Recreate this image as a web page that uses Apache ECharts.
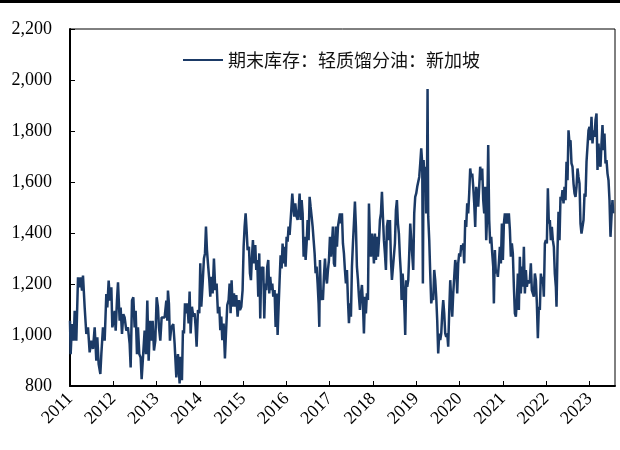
<!DOCTYPE html>
<html>
<head>
<meta charset="utf-8">
<script src="https://cdn.jsdelivr.net/npm/echarts@6/dist/echarts.min.js"></script>
<style>
html,body{margin:0;padding:0;background:#fff;}
#chart{width:620px;height:450px;}
</style>
</head>
<body>
<div id="chart"></div>
<script>
// Series name
const seriesName = '期末库存：轻质馏分油：新加坡';
// Year tick labels
const yearLabels = [2011,2012,2013,2014,2015,2016,2017,2018,2019,2020,2021,2022,2023];
// Y axis ticks
const yTicks = [800,1000,1200,1400,1600,1800,2000,2200];
// Observation dates (decimal year)
const obsTime = [
2011.000,2011.015,2011.046,2011.085,2011.108,2011.146,2011.185,2011.223,2011.246,2011.277,
2011.300,2011.339,2011.377,2011.416,2011.454,2011.493,2011.531,2011.570,2011.608,2011.631,
2011.662,2011.701,2011.724,2011.762,2011.801,2011.839,2011.862,2011.893,2011.924,2011.955,
2011.978,2012.008,2012.032,2012.055,2012.085,2012.109,2012.147,2012.170,2012.201,2012.232,
2012.262,2012.301,2012.339,2012.378,2012.401,2012.432,2012.463,2012.493,2012.517,2012.547,
2012.570,2012.601,2012.632,2012.655,2012.686,2012.724,2012.755,2012.786,2012.817,2012.848,
2012.878,2012.909,2012.940,2012.971,2013.002,2013.032,2013.055,2013.086,2013.117,2013.148,
2013.186,2013.225,2013.248,2013.263,2013.286,2013.309,2013.340,2013.386,2013.417,2013.456,
2013.494,
2013.532,2013.556,2013.586,2013.609,2013.633,2013.656,2013.686,2013.710,2013.740,2013.763,
2013.787,2013.817,2013.848,2013.879,2013.902,2013.925,2013.956,2013.987,2014.010,2014.033,
2014.064,2014.094,2014.118,2014.141,2014.164,2014.187,2014.218,2014.241,2014.264,2014.295,
2014.325,2014.356,2014.387,2014.418,2014.449,2014.472,2014.495,2014.518,2014.549,2014.579,
2014.603,2014.633,2014.664,2014.687,2014.710,2014.733,2014.757,2014.787,2014.818,2014.841,
2014.872,2014.903,2014.926,2014.957,2014.987,2015.011,2015.034,2015.057,2015.080,2015.103,
2015.134,2015.157,2015.180,2015.203,2015.226,2015.249,2015.280,2015.303,2015.326,2015.349,
2015.372,2015.395,2015.418,2015.442,2015.465,2015.488,2015.511,2015.534,2015.557,2015.580,
2015.603,2015.626,2015.650,2015.673,2015.696,2015.726,2015.750,2015.773,2015.796,2015.819,
2015.842,2015.865,2015.888,2015.911,2015.934,2015.957,2015.980,2016.004,2016.027,2016.050,
2016.073,
2016.112,2016.135,2016.158,2016.181,2016.204,2016.235,2016.258,2016.281,2016.304,2016.328,
2016.351,2016.374,2016.397,2016.420,2016.443,2016.466,2016.489,2016.512,2016.535,2016.558,
2016.582,2016.605,2016.628,2016.651,2016.674,2016.697,2016.720,2016.743,2016.759,2016.774,
2016.797,2016.820,2016.843,2016.866,2016.890,2016.913,2016.936,2016.959,2016.982,2017.005,
2017.028,2017.051,2017.074,2017.097,2017.120,2017.144,2017.167,2017.190,2017.213,2017.236,
2017.259,2017.282,2017.305,2017.328,2017.351,2017.374,2017.398,2017.421,2017.444,2017.467,
2017.490,2017.513,2017.536,2017.559,2017.582,2017.605,2017.628,2017.652,2017.675,2017.698,
2017.721,2017.744,2017.767,2017.790,2017.813,2017.836,2017.859,2017.883,2017.906,2017.929,
2017.952,2017.975,2017.998,2018.021,2018.044,2018.067,2018.090,2018.113,2018.137,2018.160,
2018.183,2018.206,2018.229,2018.252,2018.275,2018.298,2018.321,2018.344,2018.367,2018.391,
2018.414,2018.437,2018.460,2018.483,2018.506,2018.529,2018.552,2018.575,2018.598,
2018.621,2018.644,2018.660,2018.683,2018.706,2018.729,2018.744,2018.767,2018.791,2018.814,
2018.837,2018.860,2018.883,2018.906,2018.929,2018.952,2018.975,2018.998,2019.021,2019.045,
2019.068,2019.091,2019.114,2019.137,2019.152,2019.168,2019.191,2019.214,2019.229,2019.245,
2019.260,2019.275,2019.299,2019.322,2019.345,2019.368,2019.391,2019.414,2019.437,2019.460,
2019.483,2019.506,2019.530,2019.553,2019.576,2019.599,2019.622,2019.645,2019.668,2019.691,
2019.714,2019.737,2019.761,2019.784,2019.807,2019.830,2019.853,2019.876,2019.899,2019.922,
2019.945,2019.968,2019.991,2020.015,2020.038,2020.061,2020.084,2020.107,2020.130,2020.153,
2020.176,2020.199,2020.222,2020.245,2020.268,2020.292,2020.315,2020.338,2020.361,2020.384,
2020.407,2020.430,2020.453,2020.476,2020.500,2020.523,2020.546,2020.569,2020.592,2020.615,
2020.638,2020.661,2020.684,2020.707,2020.731,2020.754,2020.777,2020.792,2020.815,2020.838,
2020.861,2020.884,2020.907,2020.930,2020.954,2020.977,2021.000,2021.023,2021.046,2021.069,
2021.092,2021.115,2021.138,2021.162,
2021.184,2021.207,2021.230,2021.254,2021.277,2021.300,2021.323,2021.346,2021.369,2021.392,
2021.415,2021.438,2021.461,2021.485,2021.508,2021.531,2021.554,2021.577,2021.600,2021.623,
2021.646,2021.669,2021.692,2021.715,2021.739,2021.762,2021.785,2021.808,2021.831,2021.854,
2021.877,2021.900,2021.923,2021.946,2021.970,2021.993,2022.016,2022.039,2022.062,2022.085,
2022.108,2022.131,2022.154,2022.177,2022.200,2022.224,2022.239,2022.262,2022.285,2022.308,
2022.331,2022.354,2022.377,2022.401,2022.424,2022.447,2022.470,2022.493,2022.516,2022.539,
2022.562,2022.585,2022.608,2022.632,2022.655,2022.678,2022.701,2022.724,2022.747,2022.770,
2022.793,2022.816,2022.839,2022.863,2022.886,2022.909,2022.932,2022.955,2022.978,2023.001,
2023.024,2023.047,2023.070,2023.094,2023.117,2023.140,2023.163,2023.186,2023.209,2023.232,
2023.255,2023.278,2023.301,2023.324,2023.347,2023.371,2023.394,2023.417,2023.440,2023.463,
2023.486,2023.509,2023.532,2023.548
];
// Inventory values (thousand barrels)
const stockValue = [
1056,925,1043,978,1095,978,1226,1187,1226,1174,
1233,1108,1004,1030,932,978,945,1030,899,991,
886,847,925,1030,978,1161,1108,1213,1135,1187,
1030,1056,1095,1017,1135,1207,1056,1108,1004,1082,
1069,1017,1030,965,873,1135,1148,1030,1095,925,
1030,925,912,827,912,1017,925,1135,899,1056,
978,1056,939,978,1148,1108,1030,978,1069,1069,
1069,1135,1056,1174,1122,978,1030,1043,965,834,
925,
810,915,823,1019,1006,1124,1085,1124,1045,1170,
1006,1111,1072,1085,1032,954,1098,1085,1281,1111,
1202,1300,1320,1425,1333,1281,1215,1150,1228,1163,
1300,1176,1202,1085,1111,1019,1072,980,1045,908,
1006,1117,1137,1202,1085,1215,1111,1163,1111,1157,
1072,1137,1098,1111,1176,1346,1425,1477,1411,1333,
1346,1242,1215,1307,1372,1281,1353,1255,1294,1150,
1320,1065,1268,1215,1268,1065,1202,1176,1268,1294,
1163,1228,1176,1202,1150,1176,1032,1163,1000,1111,
1215,1313,1261,1359,1281,1346,1268,1385,1366,1425,
1392,
1490,1555,1503,1464,1516,1464,1451,1490,1555,1451,
1529,1477,1307,1385,1294,1359,1451,1372,1542,1503,
1464,1425,1372,1320,1242,1268,1202,1124,1032,1294,
1137,1176,1137,1229,1300,1229,1202,1255,1294,1385,
1307,1359,1425,1281,1268,1425,1346,1425,1451,1477,
1438,1477,1359,1320,1255,1202,1255,1137,1046,1124,
1072,1268,1359,1438,1523,1425,1268,1216,1150,1098,
1163,1196,1124,1006,1150,1085,1163,1137,1516,1385,
1307,1398,1359,1281,1398,1294,1385,1307,1372,1451,
1477,1562,1464,1372,1320,1255,1425,1451,1372,1451,
1294,1216,1216,1216,1359,1490,1529,1438,1398,
1307,1241,1137,1241,1189,1085,1000,1215,1189,1215,
1320,1437,1372,1372,1255,1477,1542,1555,1581,1581,
1620,1673,1732,1673,1202,1686,1607,1660,1477,1542,
1965,1464,1372,1241,1124,1150,1137,1255,1215,1150,
1058,928,1006,980,1006,1085,1137,1085,1006,993,
1006,954,1098,1215,1137,1072,1163,1228,1294,1268,
1163,1281,1320,1307,1353,1333,1359,1281,1451,1424,
1516,1477,1555,1653,1620,1633,1581,1516,1424,1581,
1555,1503,1581,1660,1607,1653,1529,1477,1581,1372,
1477,1745,1451,1359,1385,1320,1268,1124,1333,1241,
1255,1228,1281,1346,1281,1437,1294,1437,1477,1437,
1477,1437,1477,1411,
1307,1359,1320,1189,1085,1072,1137,1241,1098,1307,
1163,1268,1189,1346,1163,1255,1189,1215,1202,1215,
1281,1176,1163,1150,1241,1215,1124,987,1111,1098,
1241,1202,1228,1150,1359,1372,1359,1575,1437,1451,
1372,1424,1372,1346,1241,1189,1111,1333,1483,1372,
1542,1529,1568,1516,1581,1529,1679,1607,1803,1751,
1764,1673,1660,1594,1555,1542,1581,1653,1620,1594,
1437,1398,1398,1451,1555,1542,1679,1686,1803,1816,
1764,1856,1751,1803,1777,1843,1869,1647,1751,1673,
1660,1751,1823,1725,1790,1673,1686,1633,1607,1529,
1385,1464,1529,1477
];

const seriesData = obsTime.map((t, i) => [t, stockValue[i]]);

const chart = echarts.init(document.getElementById('chart'), null, {renderer: 'canvas'});
const serif = "'Liberation Serif', 'Times New Roman', serif";
chart.setOption({
  backgroundColor: '#ffffff',
  animation: false,
  graphic: [{
    type: 'rect', left: 0, top: 0,
    shape: {x: 0, y: 0, width: 620, height: 3},
    style: {fill: '#000'}
  }],
  grid: {
    left: 70, right: 5, top: 29, bottom: 64,
    show: true, borderColor: '#000', borderWidth: 1, backgroundColor: 'transparent'
  },
  legend: {
    show: true,
    left: 183, top: 51, padding: 0,
    itemWidth: 40, itemHeight: 2,
    icon: 'rect',
    itemStyle: {color: '#1b3a66'},
    data: [seriesName],
    textStyle: {fontFamily: "'Noto Sans CJK SC', sans-serif", fontSize: 18, color: '#111'}
  },
  xAxis: {
    type: 'value',
    min: yearLabels[0],
    max: 2023.59,
    interval: 1,
    splitLine: {show: false},
    axisLine: {lineStyle: {color: '#000', width: 2}},
    axisTick: {inside: true, length: 5, lineStyle: {color: '#000', width: 1}},
    axisLabel: {
      rotate: 45, margin: 10, showMaxLabel: false,
      fontFamily: serif, fontSize: 18, color: '#000',
      formatter: v => (yearLabels.indexOf(Math.round(v)) >= 0 && Math.abs(v - Math.round(v)) < 1e-6) ? String(Math.round(v)) : ''
    }
  },
  yAxis: {
    type: 'value',
    min: yTicks[0], max: yTicks[yTicks.length - 1], interval: 200,
    splitLine: {show: false},
    axisLine: {show: true, lineStyle: {color: '#000', width: 2}},
    axisTick: {show: true, inside: true, length: 5, lineStyle: {color: '#000', width: 1}},
    axisLabel: {
      margin: 18, fontFamily: serif, fontSize: 18, color: '#000',
      formatter: v => v.toLocaleString('en-US')
    }
  },
  series: [{
    name: seriesName,
    type: 'line',
    data: seriesData,
    symbol: 'none',
    sampling: null,
    lineStyle: {color: '#1b3a66', width: 2.5},
    itemStyle: {color: '#1b3a66'}
  }]
});
</script>
</body>
</html>
